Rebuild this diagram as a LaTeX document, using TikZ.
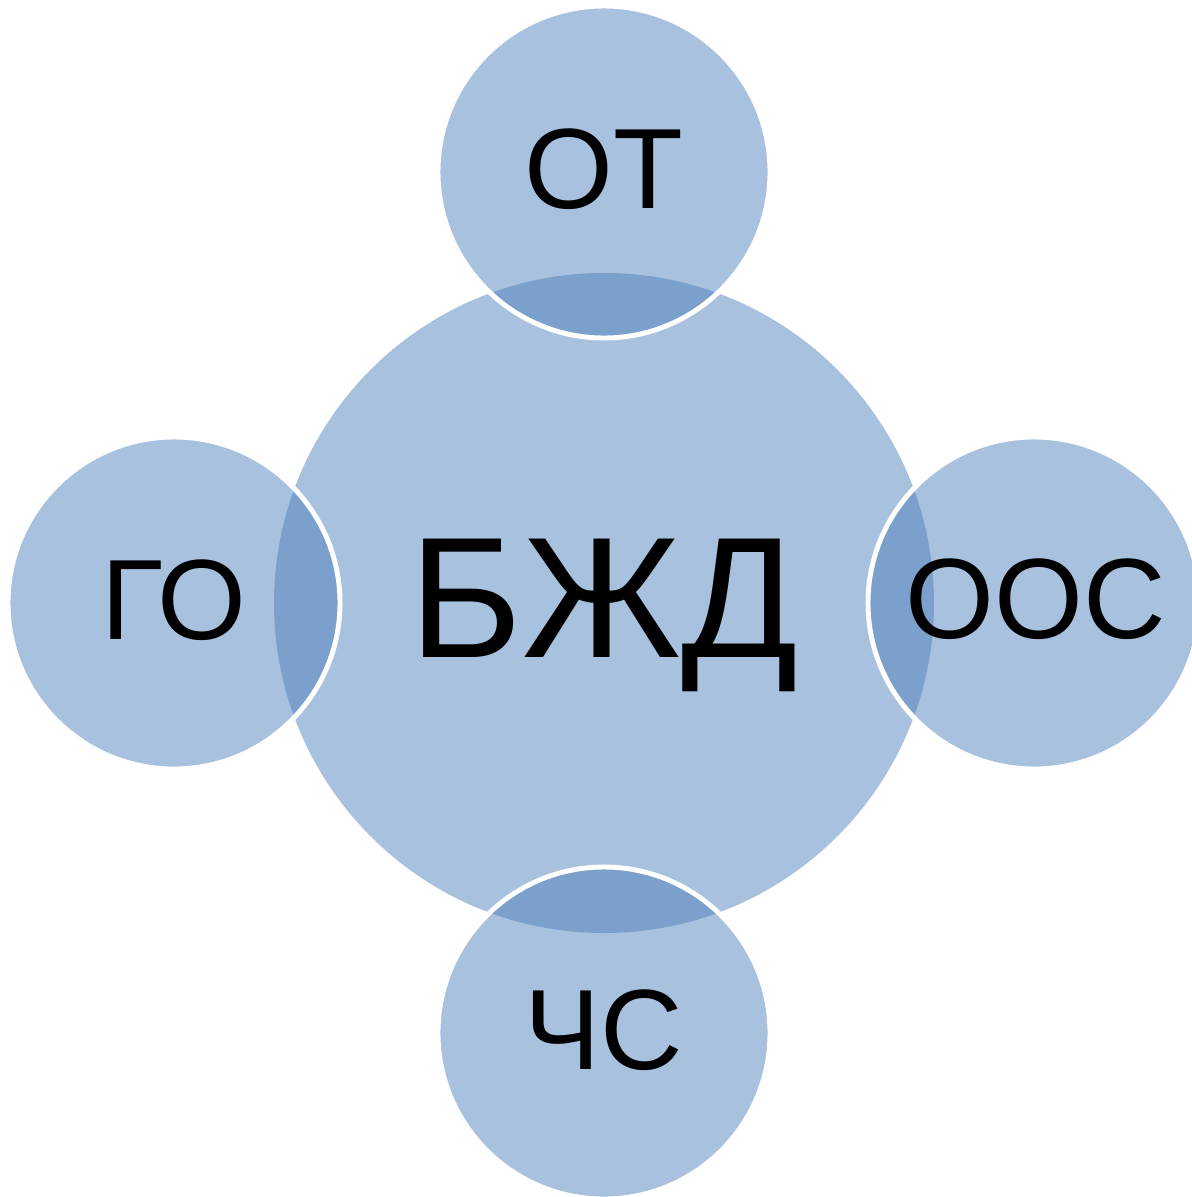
\documentclass[tikz,border=0pt]{standalone}
\usepackage{fontspec}
\setmainfont{Liberation Sans}
\usetikzlibrary{positioning}

\definecolor{ringblue}{HTML}{A8C1DF}
\definecolor{lensblue}{HTML}{7BA0CC}

\begin{document}
\begin{tikzpicture}[x=0.02cm,y=-0.02cm]
		\tikzstyle{disc}=[fill=ringblue]
		\tikzstyle{lens}=[fill=lensblue]
		\tikzstyle{rim}=[draw=white,line width=2.8pt]
		\tikzstyle{bigtext}=[font=\fontsize{98}{110}\selectfont]
		\tikzstyle{smalltext}=[font=\fontsize{65}{72}\selectfont]
		
		\useasboundingbox (0,0) rectangle (1192,1197);
		
		% centres
		\coordinate (cBJD) at (604,603);
		\coordinate (cOT) at (604,172);
		\coordinate (cGO) at (174,603);
		\coordinate (cOOS) at (1034,603);
		\coordinate (cCHS) at (604,1033);
		
		\fill [disc] (cBJD) circle (330);
		
		\foreach \c in {cOT,cGO,cOOS,cCHS} {
			\fill [disc] (\c) circle (164);
			\begin{scope}
				\clip (cBJD) circle (330);
				\fill [lens] (\c) circle (164);
			\end{scope}
			\draw [rim] (\c) circle (166);
		}
		
		\node[bigtext] (bjd) at (604,615) {БЖД};
		\node[smalltext] (ot) at (604,169) {ОТ};
		\node[smalltext] (go) at (174,600) {ГО};
		\node[smalltext] (oos) at (1036,599) {ООС};
		\node[smalltext] (chs) at (604,1030) {ЧС};
\end{tikzpicture}
\end{document}
